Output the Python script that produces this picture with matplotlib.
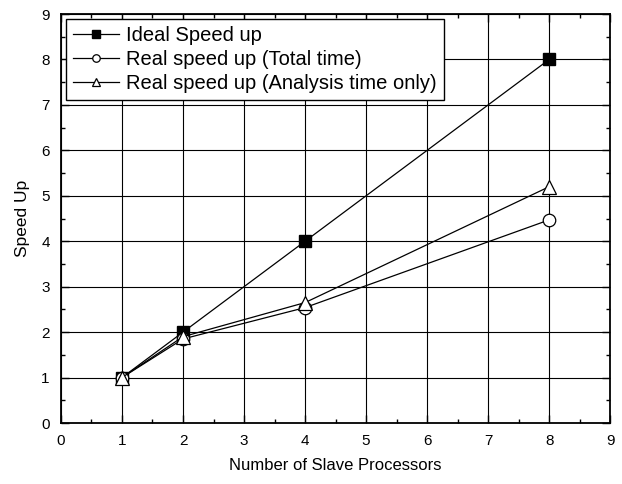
import numpy as np
import matplotlib
matplotlib.use('Agg')
import matplotlib.pyplot as plt
from matplotlib.ticker import MultipleLocator

plt.rcParams['font.family'] = ['Liberation Sans', 'DejaVu Sans']

# data
procs = [1, 2, 4, 8]
ideal = [1, 2, 4, 8]
total_time = [1, 1.85, 2.54, 4.47]
analysis_time = [1, 1.90, 2.65, 5.2]

fig = plt.figure(figsize=(6.22, 4.84), dpi=100)
ax = fig.add_axes([0.098, 0.126, 0.883, 0.845])

ax.plot(procs, ideal, color='black', lw=0.9, marker='s', ms=8.5,
        mfc='black', mec='black', label='Ideal Speed up', zorder=3)
ax.plot(procs, total_time, color='black', lw=0.9, marker='o', ms=9,
        mfc='white', mec='black', mew=0.9, label='Real speed up (Total time)', zorder=3)
ax.plot(procs, analysis_time, color='black', lw=0.9, marker='^', ms=10,
        mfc='white', mec='black', mew=0.9, label='Real speed up (Analysis time only)', zorder=4)

ax.set_xlim(0, 9)
ax.set_ylim(0, 9)
ax.xaxis.set_major_locator(MultipleLocator(1))
ax.yaxis.set_major_locator(MultipleLocator(1))
ax.xaxis.set_minor_locator(MultipleLocator(0.5))
ax.yaxis.set_minor_locator(MultipleLocator(0.5))
ax.tick_params(which='both', direction='in', top=True, right=True, labelsize=11)
ax.tick_params(which='major', length=6, width=1)
ax.tick_params(which='minor', length=3, width=1)
ax.tick_params(axis='both', which='major', pad=8)
ax.grid(True, which='major', color='black', lw=0.8)
ax.set_axisbelow(True)
for s in ax.spines.values():
    s.set_linewidth(1.3)

ax.set_xlabel('Number of Slave Processors', fontsize=12, labelpad=7)
ax.set_ylabel('Speed Up', fontsize=12.5, labelpad=8)

leg = ax.legend(loc='upper left', fontsize=14.5, frameon=True, fancybox=False,
                edgecolor='black', framealpha=1, borderaxespad=0.25,
                markerscale=0.6, handlelength=2.3, handletextpad=0.35,
                labelspacing=0.25, borderpad=0.35)
leg.get_frame().set_linewidth(1.0)

fig.savefig('out.png', dpi=100)
